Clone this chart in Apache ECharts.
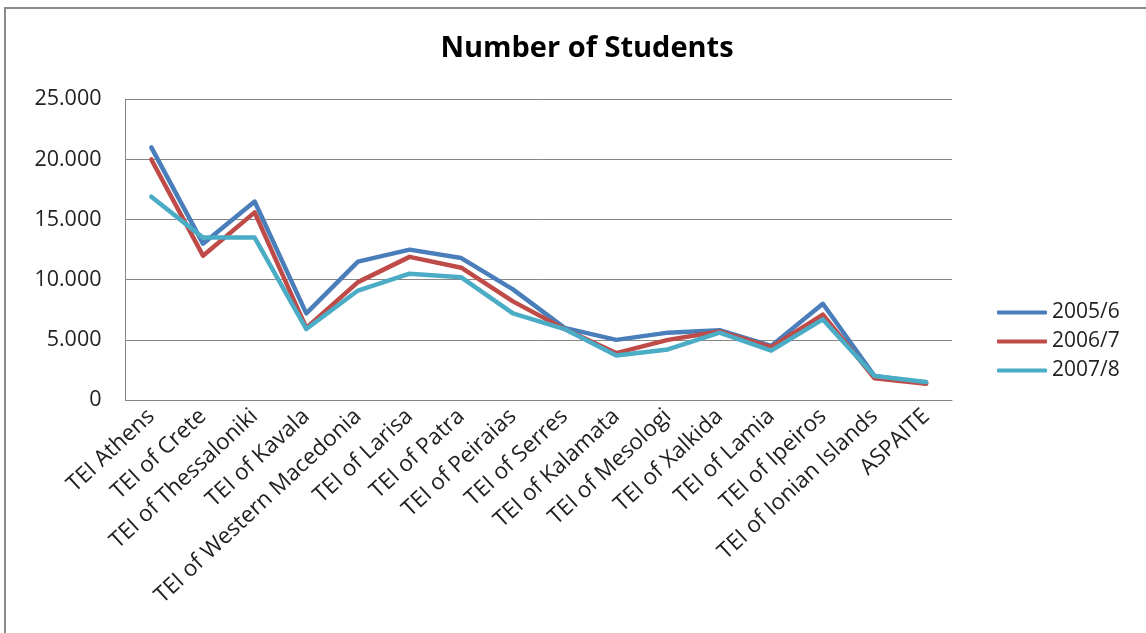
<!DOCTYPE html>
<html>
<head>
<meta charset="utf-8">
<script src="https://cdn.jsdelivr.net/npm/echarts@6/dist/echarts.min.js"></script>
<style>html,body{margin:0;padding:0;background:#fff;}#c{width:1146px;height:633px;}</style>
</head>
<body>
<div id="c"></div>
<script>
var categories = ["TEI Athens","TEI of Crete","TEI of Thessaloniki","TEI of Kavala","TEI of Western Macedonia","TEI of Larisa","TEI of Patra","TEI of Peiraias","TEI of Serres","TEI of Kalamata","TEI of Mesologi","TEI of Xalkida","TEI of Lamia","TEI of Ipeiros","TEI of Ionian Islands","ASPAITE"];
var s2005 = [21000,13000,16500,7200,11500,12500,11800,9200,6000,5000,5600,5800,4500,8000,2000,1400];
var s2006 = [20000,12000,15600,6000,9800,11900,11000,8200,5900,3900,5000,5700,4400,7100,1800,1350];
var s2007 = [16900,13500,13500,5900,9100,10500,10200,7200,5900,3700,4200,5600,4100,6700,2000,1500];
var seriesNames = ["2005/6","2006/7","2007/8"];
var colors = ["#4A7EBB","#BE4B48","#4BACC6"];

var chart = echarts.init(document.getElementById('c'));
var font = '"Open Sans"';
function mk(name, data, color){
  return {name:name,type:'line',data:data,symbol:'none',smooth:false,
    lineStyle:{width:4.5,color:color,cap:'round',join:'round'},itemStyle:{color:color}};
}
chart.setOption({
  animation:false,
  backgroundColor:'#fff',
  graphic:[{type:'rect',shape:{x:5,y:8,width:1200,height:700},style:{fill:'none',stroke:'#8a8a8a',lineWidth:2},silent:true}],
  title:{text:'Number of Students',left:582,textAlign:'center',top:29,
    textStyle:{fontFamily:font,fontWeight:'bold',fontSize:29,color:'#000'}},
  legend:{orient:'vertical',left:992,top:297,itemWidth:50,itemHeight:4,itemGap:8,
    icon:'roundRect',
    textStyle:{fontFamily:font,fontSize:21,color:'#222'},
    data:seriesNames},
  grid:{left:125.5,right:194,top:99.3,bottom:233,containLabel:false},
  xAxis:{type:'category',data:categories,boundaryGap:true,
    axisLine:{lineStyle:{color:'#868686',width:1}},axisTick:{show:false},
    axisLabel:{rotate:43,interval:0,margin:13,fontFamily:font,fontSize:22.5,color:'#222'}},
  yAxis:{type:'value',min:0,max:25000,interval:5000,
    axisLine:{show:true,lineStyle:{color:'#868686'}},axisTick:{show:false},
    splitLine:{lineStyle:{color:'#868686',width:1}},
    axisLabel:{margin:24,fontFamily:font,fontSize:21.5,color:'#222',
      formatter:function(v){return v===0?'0':(v/1000).toFixed(0)+'.000';}}},
  series:[mk(seriesNames[0],s2005,colors[0]),mk(seriesNames[1],s2006,colors[1]),mk(seriesNames[2],s2007,colors[2])]
});
</script>
</body>
</html>
